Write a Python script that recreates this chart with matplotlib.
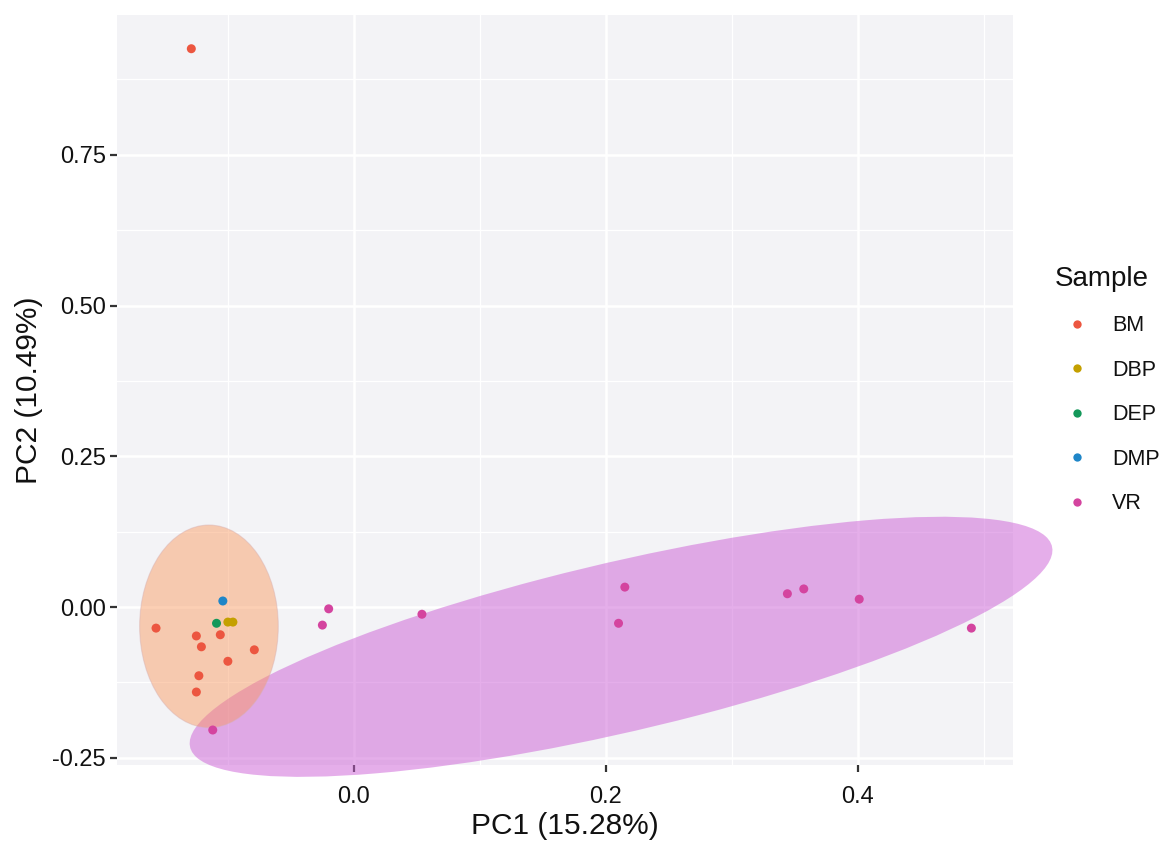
import numpy as np
import matplotlib.pyplot as plt
from matplotlib.patches import Ellipse
from matplotlib.lines import Line2D

plt.rcParams['font.family'] = ['Liberation Sans', 'DejaVu Sans']

# PCA scores
bm_x = [-0.129, -0.157, -0.125, -0.106, -0.121, -0.079, -0.100, -0.123, -0.125]
bm_y = [0.926, -0.035, -0.048, -0.046, -0.066, -0.071, -0.090, -0.114, -0.141]
dbp_x = [-0.100, -0.096]
dbp_y = [-0.025, -0.025]
dep_x = [-0.109]
dep_y = [-0.027]
dmp_x = [-0.104]
dmp_y = [0.010]
vr_x = [-0.112, -0.020, -0.025, 0.054, 0.215, 0.210, 0.344, 0.357, 0.401, 0.490]
vr_y = [-0.204, -0.003, -0.030, -0.012, 0.033, -0.027, 0.022, 0.030, 0.013, -0.035]

samples = ['BM', 'DBP', 'DEP', 'DMP', 'VR']
point_cols = ['#ec5640', '#c4a000', '#14985a', '#1f86c8', '#d4449f']

# confidence ellipses: centre, full width, full height, angle (deg)
vr_ell = (0.212, -0.066, 0.767, 0.258, 28.6)
bm_ell = (-0.115, -0.032, 0.110, 0.336, 0.0)

fig = plt.figure(figsize=(11.65, 8.41), dpi=100)
ax = fig.add_axes([0.1004, 0.0904, 0.7691, 0.8918])
ax.set_facecolor('#f3f3f6')

# ellipses (VR first, BM on top)
cx, cy, w, h, a = vr_ell
ax.add_patch(Ellipse((cx, cy), w, h, angle=a, facecolor='#cc5fd6', alpha=0.5,
                     edgecolor='none', zorder=2, clip_on=False))
cx, cy, w, h, a = bm_ell
ax.add_patch(Ellipse((cx, cy), w, h, angle=a, facecolor='#fa965a', alpha=0.45,
                     edgecolor='#d8b0b0', lw=0.8, zorder=3, clip_on=False))

groups = [(bm_x, bm_y), (dbp_x, dbp_y), (dep_x, dep_y), (dmp_x, dmp_y), (vr_x, vr_y)]
for (gx, gy), col in zip(groups, point_cols):
    ax.scatter(gx, gy, s=42, color=col, edgecolors='none', zorder=4)

ax.set_xlim(-0.188, 0.523)
ax.set_ylim(-0.262, 0.982)
ax.set_xticks([0.0, 0.2, 0.4])
ax.set_xticklabels(['0.0', '0.2', '0.4'])
ax.set_yticks([-0.25, 0.0, 0.25, 0.5, 0.75])
ax.set_yticklabels(['-0.25', '0.00', '0.25', '0.50', '0.75'])
ax.set_xticks([-0.1, 0.1, 0.3, 0.5], minor=True)
ax.set_yticks([-0.125, 0.125, 0.375, 0.625, 0.875], minor=True)

ax.grid(True, which='major', color='white', lw=1.8, zorder=1)
ax.grid(True, which='minor', color='white', lw=0.9, zorder=1)
ax.set_axisbelow(True)
for s in ax.spines.values():
    s.set_visible(False)
ax.tick_params(which='major', length=5, width=1.6, color='#333333',
               labelsize=17, labelcolor='#111111')
ax.tick_params(axis='x', which='major', pad=10)
ax.tick_params(axis='y', which='major', pad=3)
ax.tick_params(which='minor', length=0)

ax.set_xlabel('PC1 (15.28%)', fontsize=21.5, color='#111111', labelpad=3)
ax.set_ylabel('PC2 (10.49%)', fontsize=21.5, color='#111111', labelpad=7)

handles = [Line2D([], [], marker='o', ls='none', markersize=6, color=c,
                  markeredgecolor='none') for c in point_cols]
leg = ax.legend(handles, samples, title='Sample', loc='upper left',
                bbox_to_anchor=(0.8982, 0.694), bbox_transform=fig.transFigure,
                frameon=False, fontsize=15.5, title_fontsize=20,
                labelspacing=1.09, handletextpad=0.6, handlelength=2.05,
                borderaxespad=0)
leg._legend_box.align = 'left'
for t in leg.get_texts():
    t.set_color('#111111')
leg.get_title().set_color('#111111')

fig.savefig('out.png', dpi=100)
